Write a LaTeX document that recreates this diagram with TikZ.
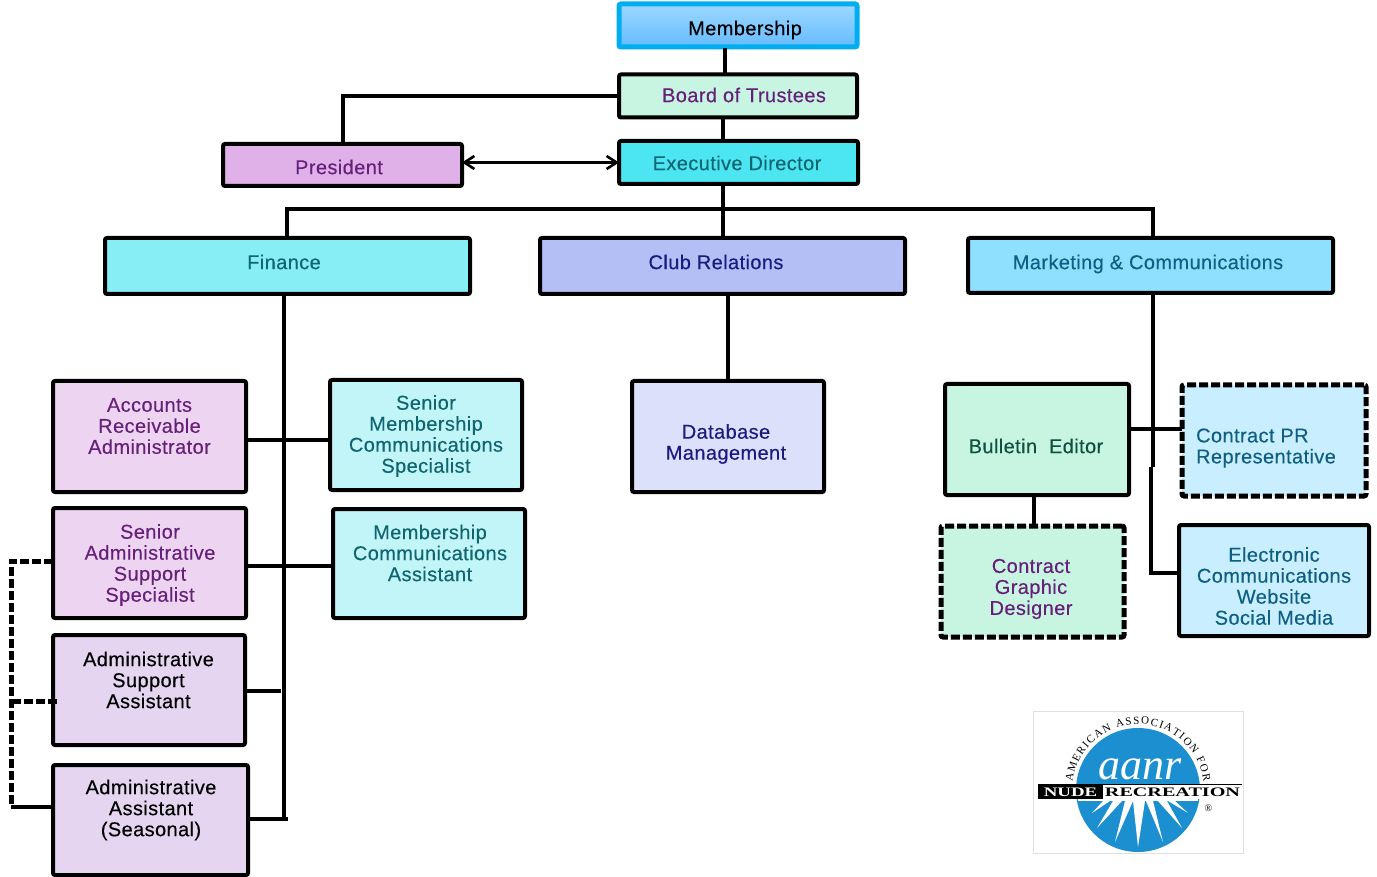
\documentclass[tikz,border=0pt]{standalone}
\usepackage{fontspec}
\setmainfont{Liberation Sans}[LetterSpace=2,FakeBold=0.25]
\newfontfamily\logofont{Liberation Serif}
\usetikzlibrary{arrows.meta,decorations.text}

\definecolor{skyline}{HTML}{00AEEF}
\definecolor{skytop}{HTML}{9CD8FF}
\definecolor{skybot}{HTML}{66BBFF}
\definecolor{mintfill}{HTML}{C8F4E2}
\definecolor{cyanfill}{HTML}{4CE6F2}
\definecolor{orchidfill}{HTML}{E0B0E8}
\definecolor{aquafill}{HTML}{88EEF5}
\definecolor{periwinkle}{HTML}{B4C0F5}
\definecolor{bluefill}{HTML}{8FE0FF}
\definecolor{lilacfill}{HTML}{EDD5F2}
\definecolor{palecyan}{HTML}{C2F5F8}
\definecolor{palenavy}{HTML}{DDE0FA}
\definecolor{paleblue}{HTML}{C8EEFF}
\definecolor{mauvefill}{HTML}{E5D5F0}
\definecolor{purpletxt}{HTML}{66207A}
\definecolor{tealtxt}{HTML}{0F6570}
\definecolor{navytxt}{HTML}{1A1A80}
\definecolor{bluetxt}{HTML}{0F5F80}
\definecolor{greentxt}{HTML}{0F5040}
\definecolor{logoblue}{HTML}{1C8FD0}

\tikzset{
	box/.style={draw=black,line width=2pt,rectangle,rounded corners=1pt,outer sep=0pt,inner sep=0pt},
	dashbox/.style={box,line width=2.5pt,dash pattern=on 4.5pt off 1.5pt},
	boxsize/.style 2 args={minimum width=#1*0.5pt,minimum height=#2*0.5pt},
	conn/.style={line width=2pt},
	dashconn/.style={line width=2.5pt,dash pattern=on 4.5pt off 1.5pt},
	lbl/.style={font=\fontsize{10}{10.5}\selectfont,align=center,inner sep=0pt}
}

\begin{document}
\begin{tikzpicture}[x=0.5pt,y=-0.5pt]
					\useasboundingbox (0,0) rectangle (1377,877);
					
					\node[box,draw=skyline,line width=2.5pt,top color=skytop,bottom color=skybot,boxsize={238}{43}] (membership) at (738,25.5) {};
					\node[box,fill=mintfill,boxsize={238}{43}] (board) at (738,96) {};
					\node[box,fill=cyanfill,boxsize={239}{43}] (execdir) at (738.5,162.5) {};
					\node[box,fill=orchidfill,boxsize={239}{42}] (president) at (342.5,165) {};
					\node[box,fill=aquafill,boxsize={365}{56}] (finance) at (287.5,266) {};
					\node[box,fill=periwinkle,boxsize={365}{56}] (clubrel) at (722.5,266) {};
					\node[box,fill=bluefill,boxsize={365}{55}] (marketing) at (1150.5,265.5) {};
					\node[box,fill=lilacfill,boxsize={193}{111}] (accounts) at (149.5,436.5) {};
					\node[box,fill=palecyan,boxsize={192}{110}] (seniormem) at (426,435) {};
					\node[box,fill=palenavy,boxsize={192}{111}] (database) at (728,436.5) {};
					\node[box,fill=mintfill,boxsize={184}{111}] (bulletin) at (1037,439.5) {};
					\node[dashbox,fill=paleblue,boxsize={184}{111}] (contractpr) at (1274,440.5) {};
					\node[box,fill=paleblue,boxsize={190}{111}] (electronic) at (1274,580.5) {};
					\node[dashbox,fill=mintfill,boxsize={183}{111}] (graphic) at (1032.5,581.5) {};
					\node[box,fill=lilacfill,boxsize={193}{110}] (senioradmin) at (149.5,563) {};
					\node[box,fill=palecyan,boxsize={192}{109}] (memcomm) at (429,563.5) {};
					\node[box,fill=mauvefill,boxsize={192}{110}] (adminsupport) at (149,690) {};
					\node[box,fill=mauvefill,boxsize={195}{110}] (adminasst) at (150.5,820) {};
					
					\coordinate (trunk) at (723,209);
					\coordinate (finturn) at (287,209);
					\coordinate (mktturn) at (1153,209);
					\coordinate (finbase) at (284,820);
					\coordinate (mktkink) at (1153,467);
					\coordinate (mktkinkb) at (1151,467);
					\coordinate (mktbase) at (1151,573);
					\coordinate (dashleft) at (11,561);
					\coordinate (dashlow) at (11,807);
					\coordinate (dashmid) at (11,701);
					\coordinate (dashin) at (57,701);
					\coordinate (presturn) at (343,96);
					
					\draw[conn] (725,48) -- (725,74);
					\draw[conn] (board.south -| trunk) -- (execdir.north -| trunk);
					\draw[conn] (board.west) -- (presturn) -- (president.north -| presturn);
					\draw[line width=1.3pt,{Straight Barb[length=5pt,width=6.5pt]}-{Straight Barb[length=5pt,width=6.5pt]}] (president.east |- execdir) -- (execdir.west);
					\draw[conn] (execdir.south -| trunk) -- (clubrel.north -| trunk);
					\draw[conn] (finance.north -| finturn) -- (finturn) -- (mktturn) -- (marketing.north -| mktturn);
					\draw[conn] (finance.south -| finbase) -- (finbase);
					\draw[conn] (clubrel.south -| database) -- (database.north);
					\draw[conn] (marketing.south -| mktkink) -- (mktkink);
					\draw[conn] (mktkinkb) -- (mktbase) -- (electronic.west |- mktbase);
					\draw[conn] (accounts.east |- 0,440) -- (seniormem.west |- 0,440);
					\draw[conn] (senioradmin.east |- 0,566) -- (memcomm.west |- 0,566);
					\draw[conn] (adminsupport.east |- 0,691) -- (281,691);
					\draw[conn] (adminasst.east |- 0,819) -- (288,819);
					\draw[conn] (bulletin.east |- 0,429) -- (contractpr.west |- 0,429);
					\draw[conn] (bulletin.south -| 1034,0) -- (graphic.north -| 1034,0);
					\draw[dashconn] (senioradmin.west |- dashleft) -- (dashleft) -- (dashlow);
					\draw[dashconn] (dashin) -- (dashmid);
					\draw[conn] (dashlow) -- (adminasst.west |- dashlow);
					
					\path (745,30) node[lbl] (tmembership) {Membership};
					\path (744,95) node[lbl,text=purpletxt] (tboard) {Board of Trustees};
					\path (737,163) node[lbl,text=tealtxt] (texecdir) {Executive Director};
					\path (339,167) node[lbl,text=purpletxt] (tpresident) {President};
					\path (284,262) node[lbl,text=tealtxt] (tfinance) {Finance};
					\path (716,262) node[lbl,text=navytxt] (tclubrel) {Club Relations};
					\path (1148,264) node[lbl,text=bluetxt] (tmarketing) {Marketing \& Communications};
					\path (149.5,426) node[lbl,text=purpletxt] (taccounts) {Accounts\\Receivable\\Administrator};
					\path (426,436) node[lbl,text=tealtxt] (tseniormem) {Senior\\Membership\\Communications\\Specialist};
					\path (726,444) node[lbl,text=navytxt] (tdatabase) {Database\\Management};
					\path (1036,446) node[lbl,text=greentxt] (tbulletin) {Bulletin\ \ Editor};
					\path (1266,448) node[lbl,text=bluetxt,align=left] (tcontractpr) {Contract PR\\Representative};
					\path (1274,586) node[lbl,text=bluetxt] (telectronic) {Electronic\\Communications\\Website\\Social Media};
					\path (1031,589) node[lbl,text=purpletxt] (tgraphic) {Contract\\Graphic\hspace*{5pt}\\Designer};
					\path (150,565) node[lbl,text=purpletxt] (tsenioradmin) {Senior\\Administrative\\Support\\Specialist};
					\path (430,553) node[lbl,text=tealtxt] (tmemcomm) {Membership\\Communications\\Assistant};
					\path (148.5,680) node[lbl] (tadminsupport) {Administrative\\Support\\Assistant};
					\path (151,810) node[lbl] (tadminasst) {Administrative\\Assistant\\(Seasonal)};
					
					% logo
					\fill[white] (1033,711) rectangle (1243,853);
					\draw[black!12,line width=0.5pt] (1033,711) rectangle (1243,853);
					\fill[logoblue] (1138,790) circle[radius=62];
					\fill[white] (1078,799) rectangle (1198,801);
					\fill[white] (1103,801) -- (1092,813) -- (1110,801) -- cycle;
					\fill[white] (1113,801) -- (1097,828) -- (1122,801) -- cycle;
					\fill[white] (1125,801) -- (1115,842) -- (1133,801) -- cycle;
					\fill[white] (1133,801) -- (1138,847) -- (1145,801) -- cycle;
					\fill[white] (1146,801) -- (1163,842) -- (1153,801) -- cycle;
					\fill[white] (1158,801) -- (1182,828) -- (1167,801) -- cycle;
					\fill[white] (1168,801) -- (1188,813) -- (1175,801) -- cycle;
					\fill[white] (1103,785) rectangle (1242,799);
					\fill[black] (1038,784) rectangle (1103,799);
					\draw[black,line width=0.5pt] (1103,784.5) -- (1242,784.5);
					\path (1070.5,792) node[inner sep=0pt,text=white,font=\logofont\bfseries\fontsize{6.5}{6.5}\selectfont] (tnude) {\scalebox{1.45}[1]{NUDE}};
					\path (1172.5,792) node[inner sep=0pt,font=\logofont\bfseries\fontsize{6.5}{6.5}\selectfont] (trecreation) {\scalebox{1.55}[1]{RECREATION}};
					\path (1140,769) node[inner sep=0pt,text=white,font=\logofont\itshape\fontsize{22}{22}\selectfont] (taanr) {aanr};
					\path (1208.5,808) node[inner sep=0pt,font=\logofont\fontsize{5}{5}\selectfont] (treg) {\textregistered};
					\path[decorate,decoration={text along path,text align=fit to path,
						text={|\logofont\fontsize{5.5}{5.5}\selectfont|AMERICAN ASSOCIATION FOR}}]
						(1072.5,782) arc[start angle=187,end angle=353,radius=66];
\end{tikzpicture}
\end{document}
